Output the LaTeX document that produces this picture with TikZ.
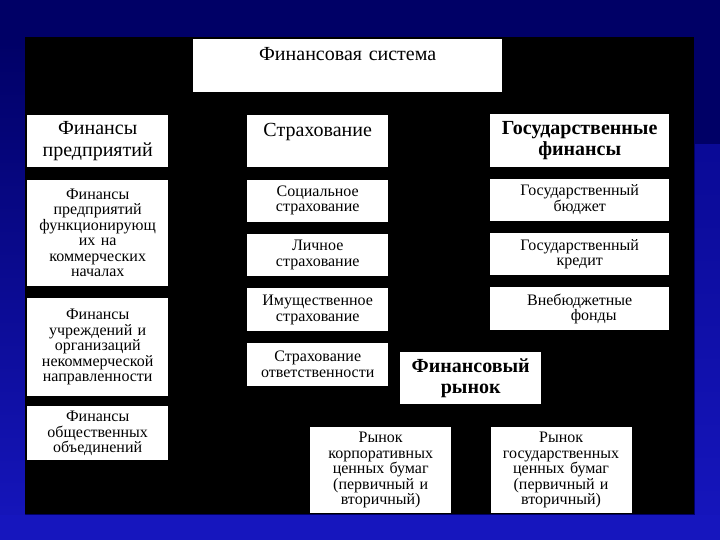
\documentclass[tikz,border=0pt]{standalone}
\usepackage{fontspec}
\setmainfont{Liberation Serif}
\usetikzlibrary{positioning}
\definecolor{navy}{RGB}{0,0,102}
\definecolor{slideblue}{RGB}{22,22,190}
\definecolor{edgeblue}{RGB}{10,10,150}
\tikzset{
  cell/.style={rectangle, fill=white, draw=none, inner sep=2pt, align=center,
    anchor=north west, font=\fontsize{16}{15.5}\selectfont},
  narrow/.style={cell, text width=137pt},
  wide/.style={cell, text width=175pt},
  headcell/.style={narrow, font=\fontsize{20}{21.5}\selectfont},
  headbold/.style={headcell, font=\fontsize{20}{21.5}\selectfont\bfseries},
  topcell/.style={text height=19pt, text depth=#1},
}
\begin{document}
\begin{tikzpicture}[x=1pt, y=-1pt, node distance=12pt]
  % slide background
  \fill[navy] (0,0) rectangle (720,540);
  \shade[top color=navy, bottom color=slideblue] (0,37) rectangle (25,540);
  \shade[top color=edgeblue, bottom color=slideblue] (695,145) rectangle (720,540);
  \fill[slideblue] (0,515) rectangle (720,540);
  \fill[black] (25,37) rectangle (694,514);

  \node[cell, text width=305pt, topcell=30pt, font=\fontsize{20}{21.5}\selectfont] (fs) at (193,39) {Финансовая система};

  \node[headcell, minimum height=52pt] (fp) at (27,115) {Финансы\\предприятий};
  \node[narrow, minimum height=106pt, below=of fp] (fpk) {Финансы\\предприятий\\функционирующ\\их на\\коммерческих\\началах};
  \node[narrow, minimum height=98pt, below=of fpk] (fu) {Финансы\\учреждений и\\организаций\\некоммерческой\\направленности};
  \node[narrow, minimum height=54pt, below=10pt of fu] (fo) {Финансы\\общественных\\объединений};

  \node[headcell, topcell=29pt] (st) at (247,115) {Страхование};
  \node[narrow, minimum height=42pt, below=of st] (ss) {Социальное\\страхование};
  \node[narrow, minimum height=42pt, below=of ss] (ls) {Личное\\страхование};
  \node[narrow, minimum height=43pt, below=of ls] (is) {Имущественное\\страхование};
  \node[narrow, minimum height=43pt, below=11pt of is] (so) {Страхование\\ответственности};

  \node[headbold, text width=175pt, minimum height=53pt] (gf) at (490,114) {Государственные\\финансы};
  \node[wide, minimum height=42pt, below=11pt of gf] (gb) {Государственный\\бюджет};
  \node[wide, minimum height=42pt, below=of gb] (gk) {Государственный\\кредит};
  \node[wide, minimum height=43pt, below=of gk] (vf) {Внебюджетные\\\hspace*{28pt}фонды};

  \node[headbold, minimum height=52pt] (fr) at (400,352) {Финансовый\\рынок};
  \node[narrow, minimum height=86pt] (rk) at (310,427) {Рынок\\корпоративных\\ценных бумаг\\(первичный и\\вторичный)};
  \node[narrow, minimum height=86pt, right=39pt of rk] (rg) {Рынок\\государственных\\ценных бумаг\\(первичный и\\вторичный)};
\end{tikzpicture}
\end{document}
